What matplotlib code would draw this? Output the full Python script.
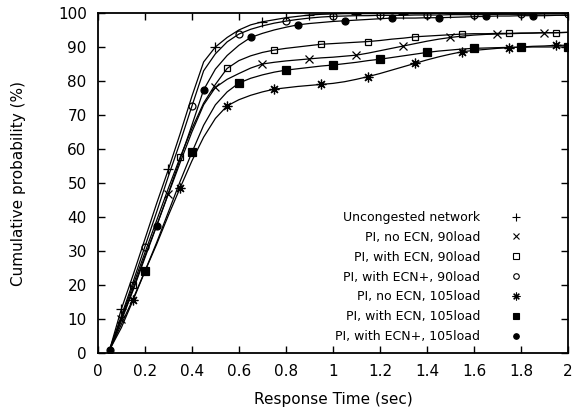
import matplotlib
matplotlib.use("Agg")
import matplotlib.pyplot as plt
from matplotlib.lines import Line2D

plt.rcParams['font.family'] = ['DejaVu Sans']

# response time grid (sec)
t = [0.05, 0.10, 0.15, 0.20, 0.25, 0.30, 0.35, 0.40, 0.45, 0.50,
     0.55, 0.60, 0.65, 0.70, 0.75, 0.80, 0.85, 0.90, 0.95, 1.00,
     1.05, 1.10, 1.15, 1.20, 1.25, 1.30, 1.35, 1.40, 1.45, 1.50,
     1.55, 1.60, 1.65, 1.70, 1.75, 1.80, 1.85, 1.90, 1.95, 2.00]

uncongested = [1, 13, 23, 33.5, 44, 54, 64.5, 75.5, 85.6, 90,
               92.8, 95, 96.5, 97.4, 98, 98.6, 99, 99.4, 99.6, 99.7,
               99.8, 99.8, 99.8, 99.8, 99.8, 99.8, 99.8, 99.8, 99.9, 99.9,
               99.9, 99.9, 99.9, 99.9, 99.9, 99.9, 100, 100, 100, 100]
noecn_90 = [1, 10, 19, 28.5, 37.5, 46.8, 56, 65, 73, 78.1,
            80.5, 82.2, 83.8, 85, 85.5, 85.9, 86.2, 86.5, 86.8, 87,
            87.3, 87.6, 88.2, 88.9, 89.6, 90.3, 91, 91.7, 92.3, 92.8,
            93.2, 93.5, 93.7, 93.8, 93.9, 94, 94.1, 94.2, 94.2, 94.3]
ecn_90 = [1, 10.5, 20, 29.5, 39, 48.5, 57.6, 66, 73.5, 79,
          83.7, 86, 87.4, 88.4, 89.1, 89.6, 90, 90.4, 90.8, 91,
          91.2, 91.4, 91.6, 91.9, 92.3, 92.6, 93, 93.2, 93.4, 93.6,
          93.8, 93.9, 93.9, 94, 94, 94.1, 94.1, 94.2, 94.2, 94.3]
ecnp_90 = [1, 11, 21, 31.3, 41.5, 52, 62, 72.6, 83, 88,
           91.5, 93.8, 95.2, 96.2, 97, 97.6, 98.1, 98.5, 98.8, 99,
           99.1, 99.2, 99.2, 99.3, 99.3, 99.3, 99.4, 99.4, 99.4, 99.5,
           99.5, 99.5, 99.5, 99.6, 99.6, 99.6, 99.6, 99.7, 99.7, 99.7]
noecn_105 = [1, 7.5, 15.6, 24, 32, 40.5, 48.6, 56.5, 63.5, 69,
             72.7, 74.5, 75.8, 76.8, 77.6, 78, 78.4, 78.7, 79, 79.3,
             79.8, 80.5, 81.3, 82.2, 83.2, 84.2, 85.2, 86.2, 87.1, 87.9,
             88.6, 89, 89.3, 89.6, 89.8, 90, 90.2, 90.3, 90.5, 90.5]
ecn_105 = [1, 8.5, 16, 24.1, 32.5, 41.5, 50.5, 59, 67, 73,
           76.8, 79.4, 80.8, 81.8, 82.6, 83.2, 83.6, 84, 84.4, 84.7,
           85.1, 85.5, 86, 86.4, 86.9, 87.4, 87.9, 88.4, 88.8, 89.1,
           89.4, 89.6, 89.7, 89.8, 89.9, 89.9, 90, 90, 90, 90]
ecnp_105 = [1, 9.5, 18.5, 28, 37.4, 47, 57, 67, 77.4, 83.5,
            87.5, 90.5, 92.8, 94, 95, 95.8, 96.5, 96.9, 97.2, 97.5,
            97.7, 97.9, 98.1, 98.3, 98.5, 98.5, 98.5, 98.6, 98.6, 98.7,
            98.8, 98.9, 99, 99.1, 99.1, 99.2, 99.2, 99.2, 99.3, 99.3]

labels = ["Uncongested network", "PI, no ECN, 90load", "PI, with ECN, 90load",
          "PI, with ECN+, 90load", "PI, no ECN, 105load", "PI, with ECN, 105load",
          "PI, with ECN+, 105load"]
series = [uncongested, noecn_90, ecn_90, ecnp_90, noecn_105, ecn_105, ecnp_105]
# marker, size, filled, first marker index (one marker every 4 points)
styles = [("+", 7, True, 1), ("x", 6, True, 1), ("s", 5, False, 2), ("o", 5, False, 3),
          ((8, 2, 0), 7, True, 2), ("s", 6, True, 3), ("o", 5, True, 0)]

fig = plt.figure(figsize=(5.79, 4.18), dpi=100)
ax = fig.add_axes([0.169, 0.155, 0.812, 0.814])

handles = []
for y, lab, (m, ms, filled, start) in zip(series, labels, styles):
    fc = "black" if filled else "none"
    ax.plot(t, y, color="black", lw=0.9, marker=m, ms=ms, mfc=fc, mec="black",
            mew=0.9, markevery=(start, 4))
    handles.append(Line2D([], [], ls="none", marker=m, ms=ms * 0.8, mfc=fc,
                          mec="black", mew=0.8, color="black"))

ax.set_xlim(0, 2)
ax.set_ylim(0, 100)
ax.set_xticks([0, 0.2, 0.4, 0.6, 0.8, 1, 1.2, 1.4, 1.6, 1.8, 2])
ax.set_xticklabels(["0", "0.2", "0.4", "0.6", "0.8", "1", "1.2", "1.4", "1.6", "1.8", "2"])
ax.set_yticks(range(0, 101, 10))
ax.tick_params(direction="in", top=True, right=True, length=5, width=1, labelsize=11)
ax.tick_params(axis="y", pad=8)
ax.tick_params(axis="x", pad=8)
for s in ax.spines.values():
    s.set_linewidth(1.3)
ax.set_xlabel("Response Time (sec)", fontsize=11, labelpad=9)
ax.set_ylabel("Cumulative probability (%)", fontsize=11, labelpad=23)

ax.legend(handles, labels, loc="lower right", frameon=False, markerfirst=False,
          fontsize=9, labelspacing=0.55, handlelength=1.0, handletextpad=2.4,
          bbox_to_anchor=(0.925, 0.0), borderaxespad=0.4)

fig.savefig("out.png", dpi=100)
